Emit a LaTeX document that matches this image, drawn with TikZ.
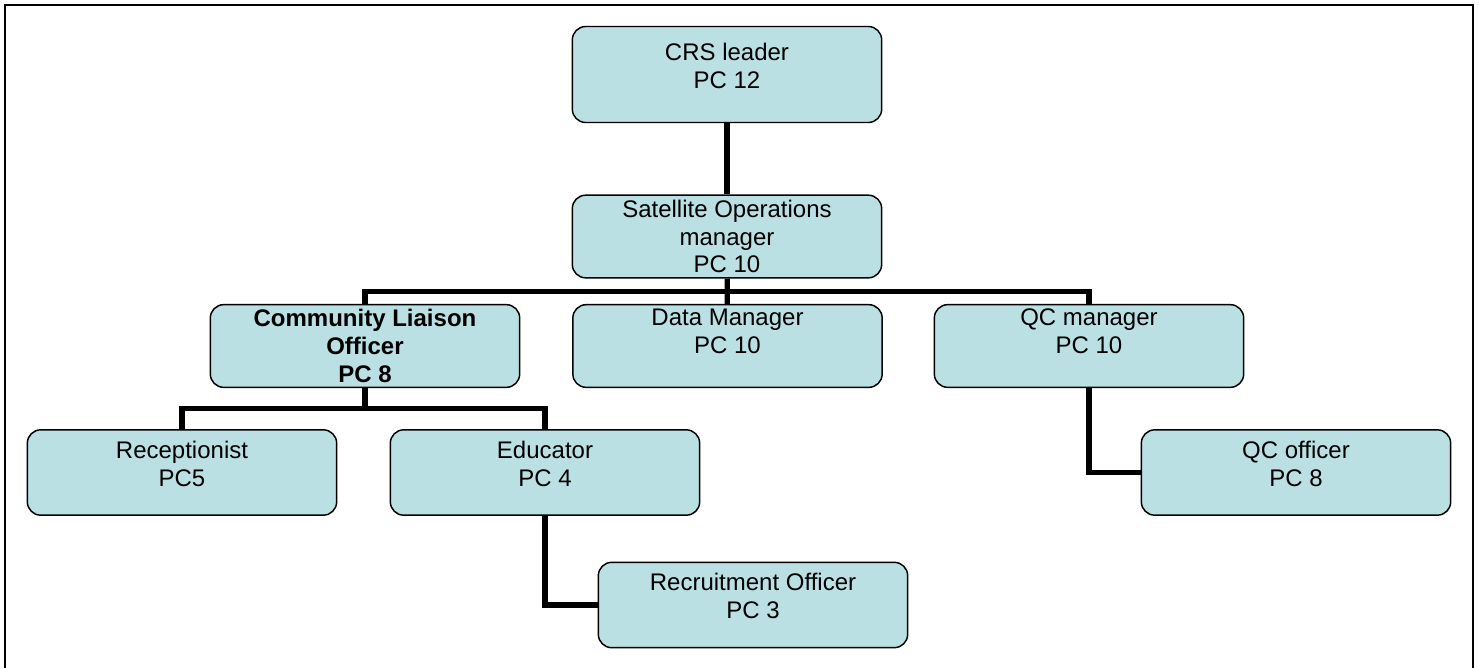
\documentclass[tikz,border=0pt]{standalone}
\usepackage{fontspec}
\setmainfont{Liberation Sans}
\usetikzlibrary{positioning,calc}
\definecolor{boxfill}{RGB}{186,224,227}
\newcommand\boxfont{\fontsize{18}{20.8}\selectfont}

\begin{document}
\begin{tikzpicture}[
    x=0.75pt, y=-0.75pt,
    box/.style={rectangle, rounded corners=10pt, draw=black, fill=boxfill, line width=1.1pt,
                minimum width=232pt, minimum height=62pt, align=center, font=\boxfont, inner sep=2pt},
    boxbold/.style={box, font=\boxfont\bfseries},
    textup/.style={execute at end node={\rule[-#1]{0pt}{0pt}}},
    link/.style={draw, line width=4pt},
    frame/.style={draw, line width=1.6pt}
]
\useasboundingbox (0,0) rectangle (1479,668);
\clip (0,0) rectangle (1479,668);
\draw[frame] (5,5) rectangle (1473,700);

% Nodes
\node[box, minimum height=72pt, textup=12.6pt] (crs) at (727,74.5) {CRS leader\\PC 12};
\node[box] (sat) at (727,236.5) {Satellite Operations\\manager\\PC 10};
\node[boxbold] (clo) at (365,346) {Community Liaison\\Officer\\PC 8};
\node[box, textup=22pt] (data) at (727.5,346) {Data Manager\\PC 10};
\node[box, textup=22pt] (qc) at (1089,346) {QC manager\\PC 10};
\node[box, minimum height=64pt, textup=13.5pt] (recep) at (182,472.5) {Receptionist\\PC5};
\node[box, minimum height=64pt, textup=13.5pt] (edu) at (545,472.5) {Educator\\PC 4};
\node[box, minimum height=64pt, textup=13.5pt] (qcoff) at (1296,472.5) {QC officer\\PC 8};
\node[box, minimum height=64pt, textup=14pt] (recruit) at (753,605) {Recruitment Officer\\PC 3};

% Bus points
\coordinate (satbus) at ($(sat.south)!0.5!(data.north)$);
\coordinate (clobus) at ($(clo.south)!0.5!(clo.south |- recep.north)$);

% Lines
\draw[link] (crs) -- (sat);
\draw[link] (sat) -- (data);
\draw[link] (clo.north) |- (satbus) -| (qc.north);
\draw[link] (clo) -- (clobus);
\draw[link] (recep.north) |- (clobus) -| (edu.north);
\draw[link] (edu.south) |- (recruit.west);
\draw[link] (qc.south) |- (qcoff.west);

\end{tikzpicture}
\end{document}
